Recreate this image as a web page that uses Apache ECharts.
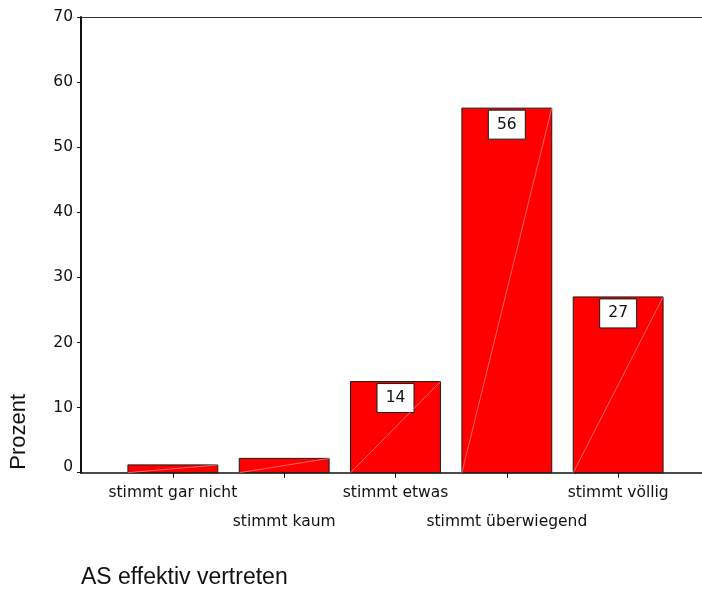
<!DOCTYPE html>
<html>
<head>
<meta charset="utf-8">
<script src="https://cdn.jsdelivr.net/npm/echarts@6/dist/echarts.min.js"></script>
<style>
  html, body { margin: 0; padding: 0; background: #ffffff; }
  #chart { width: 702px; height: 590px; }
</style>
</head>
<body>
<div id="chart"></div>
<script>
// Antwortkategorien, Prozentwerte und Achsenbeschriftung
const categories = ['stimmt gar nicht', 'stimmt kaum', 'stimmt etwas', 'stimmt überwiegend', 'stimmt völlig'];
const percentValues = [1.2, 2.2, 14, 56, 27];
const showValueLabel = [false, false, true, true, true];
const yTicks = [0, 10, 20, 30, 40, 50, 60, 70];
const axisTitle = 'AS effektiv vertreten';
const valueAxisTitle = 'Prozent';

const BAR_WIDTH = 0.807;          // in Kategorie-Einheiten
const X_MIN = -0.825, X_MAX = 4.753;
const TICK_FONT = 'DejaVu Sans';
const TEXT_COLOR = '#111111';

const categoryPositions = categories.map(function (c, i) { return i; });
const upperRow = categoryPositions.filter(function (i) { return i % 2 === 0; });
const lowerRow = categoryPositions.filter(function (i) { return i % 2 === 1; });

const chart = echarts.init(document.getElementById('chart'), null, { renderer: 'canvas' });

function renderBar(params, api) {
  const i = api.value(0);
  const v = api.value(1);
  const top = api.coord([i, v]);
  const base = api.coord([i, 0]);
  const w = api.size([BAR_WIDTH, 0])[0];
  const x0 = top[0] - w / 2;
  const h = base[1] - top[1];
  const children = [{
    type: 'rect',
    shape: { x: x0, y: top[1], width: w, height: h },
    style: { fill: '#ff0000', stroke: '#1a1a1a', lineWidth: 1 }
  }];
  if (showValueLabel[i]) {
    const bw = 37, bh = 29;
    children.push({
      type: 'rect',
      shape: { x: top[0] - bw / 2, y: top[1] + 2, width: bw, height: bh },
      style: { fill: '#ffffff', stroke: '#1a1a1a', lineWidth: 1 }
    });
    children.push({
      type: 'text',
      style: {
        x: top[0], y: top[1] + 2 + bh / 2,
        text: String(Math.round(v)),
        align: 'center', verticalAlign: 'middle',
        font: '15.5px "' + TICK_FONT + '"',
        fill: TEXT_COLOR
      }
    });
  }
  // feine Diagonale von unten links nach oben rechts
  children.push({
    type: 'line',
    shape: { x1: x0, y1: base[1], x2: x0 + w, y2: top[1] },
    style: { stroke: 'rgba(255,200,200,0.75)', lineWidth: 0.7 }
  });
  return { type: 'group', children: children };
}

function categoryLabel(val) { return categories[Math.round(val)]; }

const labelStyle = {
  fontFamily: TICK_FONT,
  fontSize: 15.5,
  color: TEXT_COLOR,
  margin: 12,
  showMinLabel: true,
  showMaxLabel: true,
  hideOverlap: false,
  formatter: categoryLabel
};

const option = {
  backgroundColor: '#ffffff',
  animation: false,
  title: {
    text: axisTitle,
    left: 81,
    top: 566,
    padding: 0,
    textStyle: { fontFamily: 'Liberation Sans', fontSize: 23, fontWeight: 'normal', color: TEXT_COLOR }
  },
  grid: { left: 80, right: 0, top: 17, bottom: 117.3 },
  xAxis: [{
    type: 'value',
    min: X_MIN,
    max: X_MAX,
    splitLine: { show: false },
    axisLine: { show: true, onZero: false, lineStyle: { color: '#111111', width: 1.5 } },
    axisTick: { show: true, length: 5, customValues: categoryPositions, lineStyle: { color: '#111111', width: 1 } },
    axisLabel: Object.assign({ customValues: upperRow }, labelStyle)
  }, {
    type: 'value',
    position: 'bottom',
    offset: 29.3,
    min: X_MIN,
    max: X_MAX,
    splitLine: { show: false },
    axisLine: { show: false },
    axisTick: { show: false },
    axisLabel: Object.assign({ customValues: lowerRow }, labelStyle)
  }, {
    type: 'value',
    position: 'top',
    min: X_MIN,
    max: X_MAX,
    splitLine: { show: false },
    axisLine: { show: true, onZero: false, lineStyle: { color: '#333333', width: 1.2 } },
    axisTick: { show: false },
    axisLabel: { show: false }
  }],
  yAxis: {
    type: 'value',
    min: yTicks[0],
    max: yTicks[yTicks.length - 1],
    interval: 10,
    splitLine: { show: false },
    axisLine: { show: true, onZero: false, lineStyle: { color: '#111111', width: 2 } },
    axisTick: { show: true, length: 4, lineStyle: { color: '#111111', width: 1 } },
    axisLabel: {
      margin: 8,
      fontFamily: TICK_FONT,
      fontSize: 15.5,
      color: TEXT_COLOR,
      formatter: function (val) { return val === 0 ? '{z|0}' : String(val); },
      rich: { z: { fontFamily: TICK_FONT, fontSize: 15.5, color: TEXT_COLOR, padding: [0, 0, 12, 0] } }
    },
    name: valueAxisTitle,
    nameLocation: 'middle',
    nameRotate: 90,
    nameGap: 51,
    nameTextStyle: { fontFamily: 'Liberation Sans', fontSize: 22, color: TEXT_COLOR, padding: [0, 374, 0, 0] }
  },
  series: [{
    type: 'custom',
    xAxisIndex: 0,
    renderItem: renderBar,
    encode: { x: 0, y: 1 },
    data: categories.map(function (c, i) { return [i, percentValues[i]]; })
  }]
};

chart.setOption(option);
</script>
</body>
</html>
